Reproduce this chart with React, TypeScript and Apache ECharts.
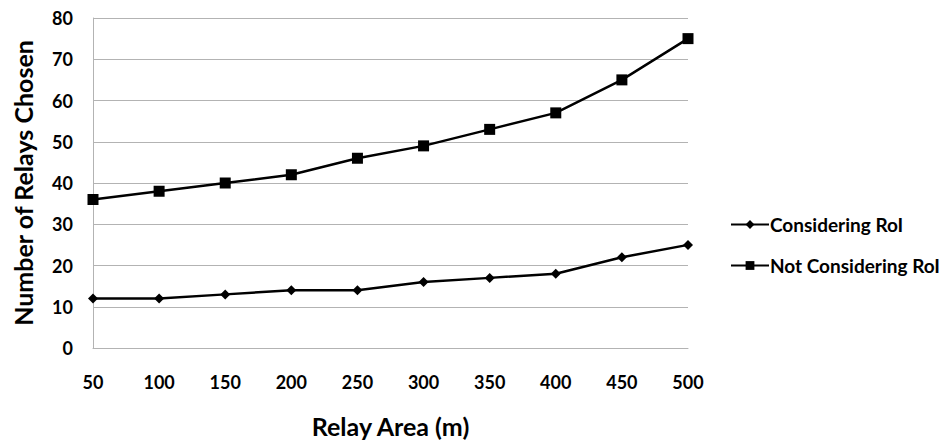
import React, { useEffect, useRef } from "react";
import * as echarts from "echarts";

const categories = ["50", "100", "150", "200", "250", "300", "350", "400", "450", "500"];
const consideringRoI = [12, 12, 13, 14, 14, 16, 17, 18, 22, 25];
const notConsideringRoI = [36, 38, 40, 42, 46, 49, 53, 57, 65, 75];

const FONT = "Lato";

export default function App() {
  const ref = useRef<HTMLDivElement>(null);
  useEffect(() => {
    if (!ref.current) return;
    const chart = echarts.init(ref.current, undefined, { renderer: "svg" });
    chart.setOption({
      animation: false,
      backgroundColor: "#ffffff",
      grid: { left: 93, right: 261, top: 18, bottom: 96, containLabel: false },
      xAxis: {
        type: "category",
        data: categories,
        boundaryGap: false,
        name: "Relay Area (m)",
        nameLocation: "middle",
        nameGap: 65,
        nameTextStyle: { fontFamily: FONT, fontWeight: "bold", fontSize: 25, color: "#000" },
        axisLine: { show: true, lineStyle: { color: "#b3b3b3", width: 1 } },
        axisTick: { show: false },
        axisLabel: { fontFamily: FONT, fontWeight: "bold", fontSize: 18, color: "#000", margin: 25 },
        splitLine: { show: false },
      },
      yAxis: {
        type: "value",
        min: 0,
        max: 80,
        interval: 10,
        name: "Number of Relays Chosen",
        nameLocation: "middle",
        nameGap: 58,
        nameRotate: 90,
        nameTextStyle: { fontFamily: FONT, fontWeight: "bold", fontSize: 25, color: "#000" },
        axisLine: { show: true, lineStyle: { color: "#b3b3b3", width: 1 } },
        axisTick: { show: false },
        axisLabel: { fontFamily: FONT, fontWeight: "bold", fontSize: 18, color: "#000", margin: 20 },
        splitLine: { show: true, lineStyle: { color: "#b3b3b3", width: 1 } },
      },
      legend: {
        orient: "vertical",
        left: 725,
        top: 210,
        itemGap: 22,
        itemWidth: 38,
        itemHeight: 11,
        textStyle: { fontFamily: FONT, fontWeight: "bold", fontSize: 19, color: "#000", padding: [0, 0, 0, -4] },
        data: ["Considering RoI", "Not Considering RoI"],
      },
      series: [
        {
          name: "Considering RoI",
          type: "line",
          data: consideringRoI,
          symbol: "diamond",
          symbolSize: 10,
          showSymbol: true,
          lineStyle: { color: "#000", width: 2.5 },
          itemStyle: { color: "#000" },
        },
        {
          name: "Not Considering RoI",
          type: "line",
          data: notConsideringRoI,
          symbol: "rect",
          symbolSize: 11,
          showSymbol: true,
          lineStyle: { color: "#000", width: 2.5 },
          itemStyle: { color: "#000" },
        },
      ],
    });
    return () => chart.dispose();
  }, []);
  return <div ref={ref} style={{ width: 949, height: 444, position: "absolute", left: 0, top: 0 }} />;
}
